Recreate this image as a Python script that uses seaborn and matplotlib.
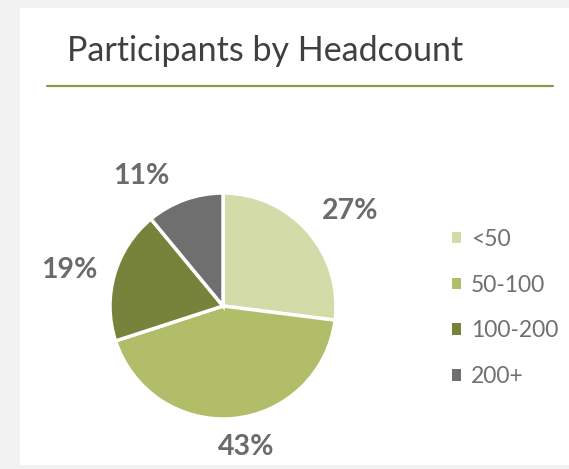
import matplotlib
matplotlib.use("Agg")
import matplotlib.pyplot as plt
import seaborn as sns
import numpy as np
from matplotlib.patches import Rectangle
from matplotlib.lines import Line2D

categories = ["<50", "50-100", "100-200", "200+"]
values = [27, 43, 19, 11]
colors = ["#d3dba9", "#b1bd69", "#77823a", "#6f6f6f"]
title = "Participants by Headcount"

sns.set_theme(style="white")
plt.rcParams['font.family'] = ['Lato', 'DejaVu Sans']

W, H = 569, 469
fig = plt.figure(figsize=(W / 100, H / 100), dpi=100)
fig.patch.set_facecolor("#f2f2f2")
fig.add_artist(Rectangle((20 / W, 1 - 465 / H), 1 - 20 / W, (465 - 8) / H,
                         transform=fig.transFigure, facecolor="white",
                         edgecolor="none", zorder=0))
fig.add_artist(Line2D([47 / W, 553 / W], [1 - 86 / H, 1 - 86 / H],
                      transform=fig.transFigure, color="#8a9a48", lw=1.6))
fig.text(67 / W, 1 - 51 / H, title, fontsize=24.5, color="#404040",
         va="center", ha="left")

cx, cy, r = 223, 306, 113
lim = 1.4
aw = 2 * r * lim
ax = fig.add_axes([(cx - aw / 2) / W, (H - cy - aw / 2) / H, aw / W, aw / H])
wedges, _ = ax.pie(values, colors=colors, startangle=90, counterclock=False,
                   wedgeprops=dict(edgecolor="white", linewidth=2.5))
ax.set_xlim(-lim, lim)
ax.set_ylim(-lim, lim)
ax.set_aspect("equal")
ax.axis("off")

# label placement (radius multiple, angle in degrees), like Excel's best fit
label_pos = [(1.40, 36.8), (1.26, -80.7), (1.40, 166.8), (1.36, 122.2)]
for v, (d, a) in zip(values, label_pos):
    ang = np.deg2rad(a)
    ax.text(d * np.cos(ang), d * np.sin(ang), f"{v}%", ha="center",
            va="center", fontsize=20.5, fontweight="bold", color="#6b6b6b",
            clip_on=False)

leg = fig.legend(wedges, categories, loc="center left",
                 bbox_to_anchor=(431 / W, 1 - 308 / H), frameon=False,
                 fontsize=16.5, handlelength=0.4, handleheight=0.4,
                 handletextpad=0.45, labelspacing=1.08)
for t in leg.get_texts():
    t.set_color("#707070")
for h in leg.legend_handles:
    h.set_edgecolor("none")

fig.savefig("out.png", dpi=100, facecolor=fig.get_facecolor())
